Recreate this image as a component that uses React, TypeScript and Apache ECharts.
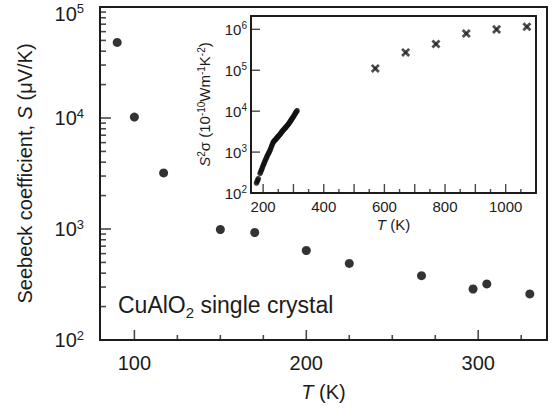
import React, { useEffect, useRef } from 'react';
import * as echarts from 'echarts';

// ---------- data ----------
const mainT = [90, 100, 117, 150, 170, 200, 225, 267, 297, 305, 330];
const mainS = [48000, 10200, 3200, 990, 930, 640, 490, 380, 288, 320, 260];

const insetDotT = [
  178, 180, 182, 184, 190, 192, 194, 196, 198, 200, 202, 204, 206, 208, 210, 212, 214, 216, 218, 220,
  222, 224, 226, 228, 230, 232, 234, 236, 238, 240, 242, 244, 246, 248, 250, 252, 254, 256, 258, 260,
  262, 264, 266, 268, 270, 272, 274, 276, 278, 280, 282, 284, 286, 288, 290, 292, 294, 296, 298, 300,
  302, 304, 306, 308, 310, 312,
];
const insetDotV = [
  175, 190, 205, 225, 300, 330, 360, 390, 430, 470, 510, 550, 600, 650, 700, 760, 820, 880, 940, 1000,
  1080, 1170, 1280, 1400, 1530, 1660, 1780, 1860, 1930, 2000, 2080, 2160, 2250, 2350, 2450, 2540, 2630, 2750, 2880, 3000,
  3150, 3280, 3420, 3560, 3700, 3850, 3990, 4150, 4320, 4500, 4700, 4900, 5150, 5400, 5700, 6000, 6350, 6700, 7100, 7400,
  7800, 8300, 8800, 9300, 9800, 10300,
];
const insetCrossT = [570, 670, 770, 870, 970, 1070];
const insetCrossV = [111000, 273000, 437000, 790000, 1000000, 1160000];

const mainXLabels = [100, 200, 300];
const mainXMinor = [125, 150, 175, 225, 250, 275, 325];
const mainYLabels = [100, 1000, 10000, 100000];
const mainYMinor = [
  200, 300, 400, 500, 600, 700, 800, 900,
  2000, 3000, 4000, 5000, 6000, 7000, 8000, 9000,
  20000, 30000, 40000, 50000, 60000, 70000, 80000, 90000,
];
const insetXLabels = [200, 400, 600, 800, 1000];
const insetXMajor = [200, 300, 400, 500, 600, 700, 800, 900, 1000];
const insetXMinor = [250, 350, 450, 550, 650, 750, 850, 950, 1050];
const insetYLabels = [100, 1000, 10000, 100000, 1000000];

// ---------- styling ----------
const FONT = "'Liberation Sans', Arial, Helvetica, sans-serif";
const INK = '#1c1c1c';

const MAIN_X_MIN = 80, MAIN_X_MAX = 340, MAIN_Y_MIN = 100, MAIN_Y_MAX = 100000;
const INS_X_MIN = 160, INS_X_MAX = 1100, INS_Y_MIN = 100, INS_Y_MAX = 2120000;

const mainYFmt = (v: number) => {
  const e = Math.round(Math.log10(v));
  return e === 5 ? `{bt|10}{st|${e}}` : `{b|10}{s|${e}}`;
};
const insetYFmt = (v: number) => `{b|10}{s|${Math.round(Math.log10(v))}}`;

// inward tick marks: thin rect symbols placed through the axes' scales
function xTicks(xi: number, yi: number, vals: number[], yBase: number, len: number, w: number) {
  return {
    type: 'scatter', xAxisIndex: xi, yAxisIndex: yi, clip: false,
    data: vals.map((v) => [v, yBase]),
    symbol: 'rect', symbolSize: [w, len], symbolOffset: [0, -len / 2],
    itemStyle: { color: INK },
  };
}
function yTicks(xi: number, yi: number, vals: number[], xBase: number, len: number, w: number) {
  return {
    type: 'scatter', xAxisIndex: xi, yAxisIndex: yi, clip: false,
    data: vals.map((v) => [xBase, v]),
    symbol: 'rect', symbolSize: [len, w], symbolOffset: [len / 2, 0],
    itemStyle: { color: INK },
  };
}
// bold "x" marker made of two rotated bars
function crossBar(rot: number) {
  return {
    type: 'scatter', xAxisIndex: 2, yAxisIndex: 2,
    data: insetCrossT.map((t, i) => [t, insetCrossV[i]]),
    symbol: 'rect', symbolSize: [2.8, 10], symbolRotate: rot,
    itemStyle: { color: '#222222' },
  };
}

// frame axes (top / right) used only as border lines
function frameX(gi: number, min: number, max: number) {
  return {
    type: 'value', gridIndex: gi, min, max, position: 'top',
    splitLine: { show: false },
    axisLine: { show: true, onZero: false, lineStyle: { color: INK, width: 2 } },
    axisTick: { show: false }, axisLabel: { show: false },
  };
}
function frameY(gi: number, min: number, max: number) {
  return {
    type: 'log', gridIndex: gi, min, max, position: 'right',
    splitLine: { show: false },
    axisLine: { show: true, onZero: false, lineStyle: { color: INK, width: 2 } },
    axisTick: { show: false }, axisLabel: { show: false },
  };
}

function buildOption() {
  const mainRich = {
    b: { fontSize: 20, lineHeight: 22, color: INK, fontFamily: FONT },
    s: { fontSize: 13, lineHeight: 13, verticalAlign: 'top', color: INK, fontFamily: FONT },
    bt: { fontSize: 20, lineHeight: 22, color: INK, fontFamily: FONT, padding: [14, 0, 0, 0] },
    st: { fontSize: 13, lineHeight: 13, verticalAlign: 'top', color: INK, fontFamily: FONT, padding: [6, 0, 0, 0] },
  };
  const insetRich = {
    b: { fontSize: 15, lineHeight: 17, color: INK, fontFamily: FONT },
    s: { fontSize: 10, lineHeight: 10, verticalAlign: 'top', color: INK, fontFamily: FONT },
  };
  const noSplit = { show: false };

  return {
    animation: false,
    backgroundColor: '#ffffff',
    textStyle: { fontFamily: FONT, color: INK },
    grid: [
      { left: 100, top: 7, width: 447, height: 333, outerBoundsMode: 'none' },
      { left: 251, top: 16, width: 285, height: 177, outerBoundsMode: 'none' },
    ],
    xAxis: [
      {
        type: 'value', gridIndex: 0, min: MAIN_X_MIN, max: MAIN_X_MAX,
        splitLine: noSplit,
        axisLine: { show: true, onZero: false, lineStyle: { color: INK, width: 2 } },
        axisTick: { show: false },
        axisLabel: { show: true, customValues: mainXLabels, margin: 13, fontSize: 20, color: INK, fontFamily: FONT, formatter: (v: number) => String(v) },
        name: '{i|T} (K)', nameLocation: 'middle', nameGap: 42,
        nameTextStyle: { fontSize: 20, color: INK, fontFamily: FONT, rich: { i: { fontStyle: 'italic', fontSize: 20, color: INK, fontFamily: FONT } } },
      },
      frameX(0, MAIN_X_MIN, MAIN_X_MAX),
      {
        type: 'value', gridIndex: 1, min: INS_X_MIN, max: INS_X_MAX,
        splitLine: noSplit,
        axisLine: { show: true, onZero: false, lineStyle: { color: INK, width: 2 } },
        axisTick: { show: false },
        axisLabel: { show: true, customValues: insetXLabels, margin: 6, fontSize: 15, color: INK, fontFamily: FONT, formatter: (v: number) => String(v) },
        name: '{i|T} (K)', nameLocation: 'middle', nameGap: 24,
        nameTextStyle: { fontSize: 15, color: INK, fontFamily: FONT, rich: { i: { fontStyle: 'italic', fontSize: 15, color: INK, fontFamily: FONT } } },
      },
      frameX(1, INS_X_MIN, INS_X_MAX),
    ],
    yAxis: [
      {
        type: 'log', gridIndex: 0, min: MAIN_Y_MIN, max: MAIN_Y_MAX,
        splitLine: noSplit,
        axisLine: { show: true, onZero: false, lineStyle: { color: INK, width: 2 } },
        axisTick: { show: false },
        axisLabel: { show: true, customValues: mainYLabels, margin: 16, formatter: mainYFmt, rich: mainRich },
        name: 'Seebeck coefficient, {i|S} (μV/K)', nameLocation: 'middle', nameGap: 65,
        nameTextStyle: { fontSize: 20, color: INK, fontFamily: FONT, rich: { i: { fontStyle: 'italic', fontSize: 20, color: INK, fontFamily: FONT } } },
      },
      frameY(0, MAIN_Y_MIN, MAIN_Y_MAX),
      {
        type: 'log', gridIndex: 1, min: INS_Y_MIN, max: INS_Y_MAX,
        splitLine: noSplit,
        axisLine: { show: true, onZero: false, lineStyle: { color: INK, width: 2 } },
        axisTick: { show: false },
        axisLabel: { show: true, customValues: insetYLabels, margin: 4, formatter: insetYFmt, rich: insetRich },
        name: '{i|S}{s|2}σ (10{s|-10}Wm{s|-1}K{s|-2})', nameLocation: 'middle', nameGap: 38,
        nameTextStyle: {
          fontSize: 15, lineHeight: 17, color: INK, fontFamily: FONT,
          rich: {
            i: { fontStyle: 'italic', fontSize: 15, lineHeight: 17, color: INK, fontFamily: FONT },
            s: { fontSize: 10, lineHeight: 10, verticalAlign: 'top', color: INK, fontFamily: FONT },
          },
        },
      },
      frameY(1, INS_Y_MIN, INS_Y_MAX),
    ],
    graphic: [
      {
        type: 'text', x: 118, y: 289,
        style: {
          text: 'CuAlO{sub|2} single crystal',
          fill: INK, fontSize: 23, fontFamily: FONT, lineHeight: 31,
          textAlign: 'left', textVerticalAlign: 'top',
          rich: {
            sub: { fontSize: 15, lineHeight: 15, verticalAlign: 'bottom', fill: INK, fontFamily: FONT },
          },
        },
      },
    ],
    series: [
      xTicks(0, 0, mainXLabels, MAIN_Y_MIN, 10, 1.6),
      xTicks(0, 0, mainXMinor, MAIN_Y_MIN, 5, 1.6),
      yTicks(0, 0, mainYLabels, MAIN_X_MIN, 11, 1.6),
      yTicks(0, 0, mainYMinor, MAIN_X_MIN, 6, 1.6),
      xTicks(2, 2, insetXMajor, INS_Y_MIN, 9, 1.4),
      xTicks(2, 2, insetXMinor, INS_Y_MIN, 4, 1.4),
      yTicks(2, 2, insetYLabels, INS_X_MIN, 9, 1.4),
      {
        type: 'scatter', xAxisIndex: 0, yAxisIndex: 0,
        data: mainT.map((t, i) => [t, mainS[i]]),
        symbol: 'circle', symbolSize: 9,
        itemStyle: { color: '#000000' },
      },
      {
        type: 'scatter', xAxisIndex: 2, yAxisIndex: 2,
        data: insetDotT.map((t, i) => [t, insetDotV[i]]),
        symbol: 'circle', symbolSize: 5.5,
        itemStyle: { color: '#111111' },
      },
      crossBar(45),
      crossBar(-45),
    ],
  };
}

export default function App() {
  const ref = useRef<HTMLDivElement>(null);
  useEffect(() => {
    if (!ref.current) return;
    const chart = echarts.init(ref.current, null, { renderer: 'svg' });
    chart.setOption(buildOption() as any);
    return () => chart.dispose();
  }, []);
  return (
    <div
      ref={ref}
      style={{ position: 'fixed', left: 0, top: 0, width: 552, height: 409, background: '#fff' }}
    />
  );
}
